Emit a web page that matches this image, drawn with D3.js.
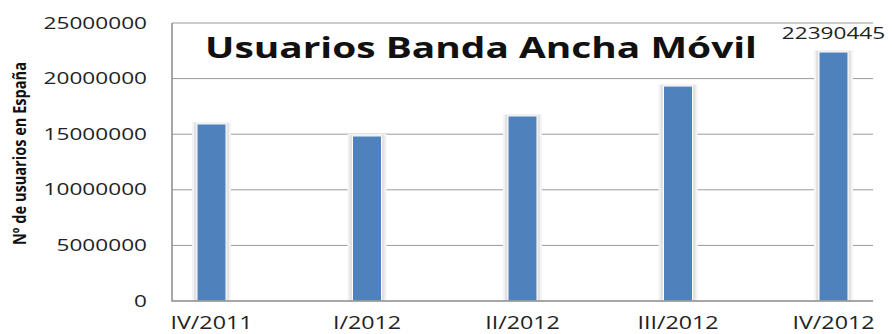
<!DOCTYPE html>
<html>
<head>
<meta charset="utf-8">
<script src="https://cdn.jsdelivr.net/npm/d3@7"></script>
<style>
  html, body { margin: 0; padding: 0; background: #fff; }
  svg { display: block; }
</style>
</head>
<body>
<svg id="chart" width="892" height="334"></svg>
<script>
const categories = ["IV/2011", "I/2012", "II/2012", "III/2012", "IV/2012"];
const users = [15920000, 14840000, 16640000, 19330000, 22390445];
const yTicks = [0, 5000000, 10000000, 15000000, 20000000, 25000000];
const chartTitle = "Usuarios Banda Ancha Móvil";
const yAxisTitle = "Nº de usuarios en España";
const labelledIndex = [4];

(function () {
const svg = d3.select("#chart");
const pLeft = 172, pRight = 873, pTop = 23, pBottom = 301;
const stretch = 1.33;
const font = "'Open Sans', 'Noto Sans', sans-serif";

const x = d3.scalePoint().domain(categories).range([pLeft, pRight]).padding(0.254);
const y = d3.scaleLinear().domain([0, 25000000]).range([pBottom, pTop]);

// gridlines
svg.append("g").selectAll("line").data(yTicks.filter(d => d > 0)).join("line")
  .attr("x1", pLeft).attr("x2", pRight)
  .attr("y1", d => y(d)).attr("y2", d => y(d))
  .attr("stroke", "#9a9a9a").attr("stroke-width", 1);

// y tick labels
svg.append("g").selectAll("text").data(yTicks).join("text")
  .attr("transform", d => `translate(147,${y(d) + 5.5}) scale(${stretch},1)`)
  .attr("text-anchor", "end")
  .attr("font-family", font).attr("font-size", 17).attr("fill", "#222")
  .text(d => d3.format("d")(d));

// x labels
svg.append("g").selectAll("text").data(categories).join("text")
  .attr("transform", d => `translate(${x(d)},329) scale(${stretch},1)`)
  .attr("text-anchor", "middle")
  .attr("font-family", font).attr("font-size", 17.5).attr("fill", "#222")
  .text(d => d);

const bw = 29;
const data = categories.map((c, i) => ({c, v: users[i], i}));
const bars = svg.append("g");
bars.selectAll("rect.h1").data(data).join("rect").attr("class", "h1")
  .attr("x", d => x(d.c) - bw / 2 - 5).attr("width", bw + 10)
  .attr("y", d => y(d.v) - 2).attr("height", d => pBottom - y(d.v) + 2)
  .attr("fill", "#f4f4f4");
bars.selectAll("rect.h2").data(data).join("rect").attr("class", "h2")
  .attr("x", d => x(d.c) - bw / 2 - 3).attr("width", bw + 6)
  .attr("y", d => y(d.v) - 1).attr("height", d => pBottom - y(d.v) + 1)
  .attr("fill", "#e2e2e2");
bars.selectAll("rect.b").data(data).join("rect").attr("class", "b")
  .attr("x", d => x(d.c) - bw / 2).attr("width", bw)
  .attr("y", d => y(d.v)).attr("height", d => pBottom - y(d.v))
  .attr("fill", "#4f81bd").attr("stroke", "#ffffff").attr("stroke-width", 1);

// axes lines
svg.append("line").attr("x1", pLeft).attr("x2", pLeft).attr("y1", pTop).attr("y2", pBottom + 0.5)
  .attr("stroke", "#8a8a8a").attr("stroke-width", 1.5);
svg.append("line").attr("x1", pLeft).attr("x2", pRight).attr("y1", pBottom).attr("y2", pBottom)
  .attr("stroke", "#8a8a8a").attr("stroke-width", 1.5);

// data label
svg.append("g").selectAll("text").data(labelledIndex).join("text")
  .attr("transform", i => `translate(${x(categories[i])},39) scale(${stretch},1)`)
  .attr("text-anchor", "middle")
  .attr("font-family", font).attr("font-size", 17).attr("fill", "#222")
  .text(i => d3.format("d")(users[i]));

// title
svg.append("text")
  .attr("x", 205).attr("y", 58)
  .attr("font-family", font).attr("font-size", 29).attr("font-weight", "bold").attr("fill", "#111")
  .attr("textLength", 552).attr("lengthAdjust", "spacingAndGlyphs")
  .text(chartTitle);

// y axis title
svg.append("text")
  .attr("transform", `translate(26,153.5) rotate(-90)`)
  .attr("text-anchor", "middle")
  .attr("font-family", font).attr("font-size", 17).attr("font-weight", "bold").attr("fill", "#111")
  .attr("textLength", 183).attr("lengthAdjust", "spacingAndGlyphs")
  .text(yAxisTitle);
})();
</script>
</body>
</html>
